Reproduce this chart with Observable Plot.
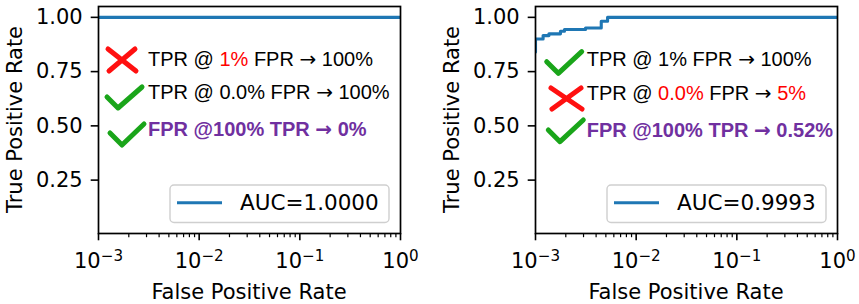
<!DOCTYPE html>
<html><head><meta charset="utf-8">
<script src="https://cdn.jsdelivr.net/npm/d3@7"></script>
<script src="https://cdn.jsdelivr.net/npm/@observablehq/plot@0.6"></script>
<style>
html,body{margin:0;padding:0;background:#fff;overflow:hidden;width:859px;height:304px}
#wrap{display:flex;width:859px}
#wrap svg{flex:none}
</style></head><body><div id="wrap"></div>
<script>
// ---- data ----
const leftFPR = [0.001, 1];
const leftTPR = [1, 1];
const rightFPR = [0.001, 0.001, 0.00119, 0.00136, 0.00177, 0.00194, 0.00314, 0.0045, 0.0052, 1];
const rightTPR = [0.84, 0.90, 0.916, 0.924, 0.936, 0.944, 0.951, 0.982, 1.0, 1.0];
const xTicks = [0.001, 0.01, 0.1, 1];
const xTickExponents = ["\u22123", "\u22122", "\u22121", "0"];
const yTicks = [0.25, 0.5, 0.75, 1];
const aucLabels = ["AUC=1.0000", "AUC=0.9993"];
const xLabel = "False Positive Rate";
const yLabel = "True Positive Rate";
// annotation rows: marker type and text segments [text, colorKey]
const leftNotes = [
  {marker: "cross", bold: false, parts: [["TPR @ ", "k"], ["1%", "r"], [" FPR ", "k"], ["\u2192", "k"], [" 100%", "k"]]},
  {marker: "check", bold: false, parts: [["TPR @ 0.0% FPR ", "k"], ["\u2192", "k"], [" 100%", "k"]]},
  {marker: "check", bold: true, parts: [["FPR @100% TPR ", "p"], ["\u2192", "p"], [" 0%", "p"]]}
];
const rightNotes = [
  {marker: "check", bold: false, parts: [["TPR @ 1% FPR ", "k"], ["\u2192", "k"], [" 100%", "k"]]},
  {marker: "cross", bold: false, parts: [["TPR @ ", "k"], ["0.0%", "r"], [" FPR ", "k"], ["\u2192", "k"], [" ", "k"], ["5%", "r"]]},
  {marker: "check", bold: true, parts: [["FPR @100% TPR ", "p"], ["\u2192", "p"], [" 0.52%", "p"]]}
];

// ---- styles / layout ----
const colors = {k: "#000000", r: "#ff0000", p: "#7030a0"};
const lineColor = "#1f77b4";
const green = "#1aa51a";
const redX = "#ff1010";
const FS = 21;

const minorTicks = [];
for (const d of [0.001, 0.01, 0.1]) for (let k = 2; k < 10; k++) minorTicks.push(d * k);

function panel(fpr, tpr, notes, auc, L) {
  const data = fpr.map((x, i) => ({fpr: x, tpr: tpr[i]}));
  const svg = Plot.plot({
    width: L.w, height: 304,
    marginLeft: L.ml, marginRight: L.mr, marginTop: 6, marginBottom: 71,
    style: {fontFamily: "'DejaVu Sans', sans-serif", fontSize: FS + "px", color: "#000", background: "#fff", overflow: "visible"},
    x: {type: "log", domain: [1e-3, 1], label: null},
    y: {domain: [0.004, 1.05], label: null},
    marks: [
      Plot.line(data, {x: "fpr", y: "tpr", curve: "step-after", stroke: lineColor, strokeWidth: 3.1, clip: true}),
      Plot.axisX(minorTicks, {tickSize: 4.2, tickFormat: () => "", strokeWidth: 1.2, label: null}),
      Plot.axisX(xTicks, {tickSize: 7.3, tickPadding: 11.8, tickFormat: () => "10", strokeWidth: 1.6, label: null}),
      Plot.axisY(yTicks, {tickSize: 7.3, tickPadding: 8.5, tickFormat: d3.format(".2f"), strokeWidth: 1.6, label: null}),
      Plot.frame({stroke: "#000", strokeWidth: 1.7})
    ]
  });
  const s = d3.select(svg);
  // superscripts on x tick labels
  let i = 0;
  s.selectAll("text").each(function() {
    const t = d3.select(this);
    if (t.text() === "10" && i < xTickExponents.length) {
      t.append("tspan").attr("dy", "-0.45em").attr("font-size", "0.72em").text(xTickExponents[i++]);
    }
  });
  const xr = [L.ml, L.w - L.mr];
  const fx = xr[0];
  const g = s.append("g").attr("text-anchor", "start");
  // axis labels
  g.append("text").attr("x", (xr[0] + xr[1]) / 2).attr("y", 298.5).attr("text-anchor", "middle")
    .attr("font-family", "'DejaVu Sans', sans-serif").attr("font-size", FS).text(xLabel);
  g.append("text").attr("transform", `translate(${fx - 76},119.5) rotate(-90)`).attr("text-anchor", "middle")
    .attr("font-family", "'DejaVu Sans', sans-serif").attr("font-size", FS).text(yLabel);
  // annotation text
  notes.forEach((n, j) => {
    const t = g.append("text").attr("x", fx + L.tx).attr("y", L.rows[j]).attr("text-anchor", "start")
      .attr("font-family", "'Liberation Sans', Arial, sans-serif").attr("font-size", 20)
      .attr("font-weight", n.bold ? "bold" : "normal");
    n.parts.forEach(([txt, c]) => {
      const ts = t.append("tspan").attr("fill", colors[c]).text(txt);
      if (txt === "\u2192") ts.attr("font-family", "'DejaVu Sans', sans-serif");
    });
    const m = L.marks[j];
    if (n.marker === "check") {
      g.append("polyline").attr("points", m.map(([x, y]) => `${fx + x},${y}`).join(" "))
        .attr("fill", "none").attr("stroke", green).attr("stroke-width", 5)
        .attr("stroke-linecap", "round").attr("stroke-linejoin", "round");
    } else {
      const [x0, y0, x1, y1] = m;
      g.append("path").attr("d", `M${fx + x0},${y0}L${fx + x1},${y1}M${fx + x1 - 1},${y0}L${fx + x0 + 1},${y1}`)
        .attr("stroke", redX).attr("stroke-width", 5).attr("stroke-linecap", "round").attr("fill", "none");
    }
  });
  // legend
  g.append("rect").attr("x", fx + 72).attr("y", 185).attr("width", 219).attr("height", 37.5).attr("rx", 4)
    .attr("fill", "#fff").attr("stroke", "#cfcfcf").attr("stroke-width", 1.4);
  g.append("line").attr("x1", fx + 79).attr("x2", fx + 124).attr("y1", 202.7).attr("y2", 202.7)
    .attr("stroke", lineColor).attr("stroke-width", 3.1);
  g.append("text").attr("x", fx + 142).attr("y", 209.8).attr("text-anchor", "start")
    .attr("font-family", "'DejaVu Sans', sans-serif").attr("font-size", 21.5).text(auc);
  return svg;
}

const wrap = document.getElementById("wrap");
wrap.appendChild(panel(leftFPR, leftTPR, leftNotes, aucLabels[0], {
  w: 430, ml: 98, mr: 30, tx: 50, rows: [65.5, 99.3, 136.3],
  marks: [[10, 49, 38, 71], [[9, 97], [20, 108], [44, 87]], [[12, 133], [24, 145], [46, 124]]]
}));
wrap.appendChild(panel(rightFPR, rightTPR, rightNotes, aucLabels[1], {
  w: 429, ml: 105, mr: 22, tx: 51.7, rows: [65.5, 99.5, 136.5],
  marks: [[[11.7, 61.7], [23.3, 73.3], [46.7, 51.7]], [16, 88, 47, 109], [[13.3, 130], [25, 141.7], [48.3, 120]]]
}));
</script></body></html>
